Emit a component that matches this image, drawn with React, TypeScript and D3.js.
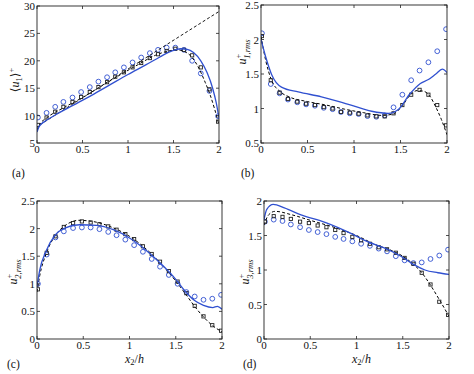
import React from 'react'
import * as d3 from 'd3'

// marker positions (x2/h), shared by all four panels
const markerX = [0.01, 0.105, 0.2, 0.29, 0.39, 0.485, 0.58, 0.675, 0.77, 0.86, 0.955, 1.05, 1.145, 1.24, 1.33, 1.425, 1.52, 1.615, 1.705, 1.8, 1.895, 1.99]
const xTicks = [0, 0.5, 1, 1.5, 2]

// (a) mean velocity
const aSquares = [8.3, 9.65, 10.7, 11.6, 12.5, 13.4, 14.3, 15.2, 16.1, 17.1, 17.9, 18.8, 19.6, 20.5, 21.2, 21.8, 22.2, 22.0, 21.0, 18.8, 14.8, 8.9]
const aCircles = [9.65, 10.5, 11.6, 12.5, 13.3, 14.3, 15.2, 16.2, 17.0, 17.9, 18.8, 19.7, 20.6, 21.4, 22.0, 22.4, 22.4, 22.0, 20.0, 17.7, 14.5, 9.9]
const aBlueX = [0, 0.02, 0.05, 0.1, 0.2, 0.4, 0.6, 0.8, 1.0, 1.2, 1.35, 1.45, 1.52, 1.58, 1.65, 1.72, 1.8, 1.87, 1.93, 1.97, 2.0]
const aBlueY = [7.0, 7.9, 8.5, 9.1, 10.1, 11.9, 13.7, 15.6, 17.5, 19.3, 20.7, 21.6, 22.0, 22.2, 22.1, 21.5, 20.0, 17.8, 15.0, 12.3, 9.5]
const aDashX = [0, 0.03, 0.1, 0.3, 0.5, 0.7, 0.9, 1.1, 1.3, 1.45, 1.55, 1.62, 1.7, 1.78, 1.85, 1.9, 1.95, 2.0]
const aDashY = [7.3, 8.4, 9.5, 11.5, 13.3, 15.3, 17.3, 19.2, 21.0, 21.8, 22.0, 21.7, 20.7, 18.6, 16.0, 13.9, 11.3, 8.3]
const aLogX = [0, 0.03, 2.0]
const aLogY = [7.6, 8.3, 29.0]
const aTicks = [5, 10, 15, 20, 25, 30]

// (b) streamwise rms
const bSquares = [2.05, 1.41, 1.23, 1.14, 1.10, 1.07, 1.05, 1.02, 1.0, 0.95, 0.94, 0.925, 0.9, 0.886, 0.886, 0.93, 1.05, 1.2, 1.27, 1.2, 1.05, 0.756]
const bCircles = [2.09, 1.355, 1.22, 1.13, 1.09, 1.06, 1.04, 1.01, 0.99, 0.95, 0.93, 0.92, 0.89, 0.88, 0.9, 1.017, 1.2, 1.41, 1.55, 1.67, 1.83, 2.15]
const bBlueX = [0, 0.05, 0.115, 0.22, 0.4, 0.65, 0.94, 1.19, 1.37, 1.48, 1.6, 1.71, 1.8, 1.88, 1.95, 2.0]
const bBlueY = [2.0, 1.75, 1.49, 1.31, 1.24, 1.17, 1.06, 0.96, 0.93, 0.99, 1.21, 1.36, 1.42, 1.5, 1.57, 1.52]
const bDashX = [0, 0.05, 0.11, 0.2, 0.3, 0.5, 0.7, 0.9, 1.1, 1.3, 1.42, 1.52, 1.6, 1.68, 1.75, 1.82, 1.88, 1.94, 2.0]
const bDashY = [2.05, 1.7, 1.42, 1.25, 1.17, 1.1, 1.05, 0.99, 0.94, 0.9, 0.92, 1.04, 1.19, 1.26, 1.25, 1.17, 1.02, 0.84, 0.62]
const bTicks = [0.5, 1, 1.5, 2, 2.5]

// (c) wall-normal rms
const cSquares = [0.9, 1.56, 1.86, 2.03, 2.1, 2.13, 2.11, 2.08, 2.04, 1.98, 1.9, 1.81, 1.68, 1.54, 1.4, 1.23, 1.04, 0.83, 0.6, 0.41, 0.25, 0.15]
const cCircles = [1.0, 1.53, 1.84, 1.95, 2.01, 2.02, 2.02, 1.99, 1.94, 1.88, 1.8, 1.7, 1.58, 1.45, 1.31, 1.16, 1.0, 0.85, 0.77, 0.71, 0.73, 0.8]
const cBlueX = [0, 0.03, 0.1, 0.2, 0.3, 0.46, 0.645, 0.825, 1.0, 1.185, 1.36, 1.5, 1.6, 1.7, 1.8, 1.9, 1.95, 2.0]
const cBlueY = [0.95, 1.25, 1.6, 1.89, 2.01, 2.07, 2.06, 1.98, 1.83, 1.6, 1.33, 1.08, 0.87, 0.7, 0.61, 0.57, 0.59, 0.54]
const cDashX = [0, 0.03, 0.1, 0.2, 0.3, 0.45, 0.6, 0.8, 1.0, 1.2, 1.4, 1.5, 1.6, 1.7, 1.8, 1.9, 2.0]
const cDashY = [0.85, 1.15, 1.55, 1.88, 2.05, 2.15, 2.13, 2.03, 1.86, 1.6, 1.25, 1.05, 0.83, 0.6, 0.4, 0.24, 0.13]
const cTicks = [0, 0.5, 1, 1.5, 2, 2.5]

// (d) spanwise rms
const dSquares = [1.7, 1.78, 1.77, 1.74, 1.70, 1.68, 1.645, 1.62, 1.58, 1.535, 1.48, 1.43, 1.38, 1.33, 1.30, 1.25, 1.175, 1.09, 0.96, 0.79, 0.54, 0.35]
const dCircles = [1.70, 1.73, 1.71, 1.66, 1.62, 1.58, 1.55, 1.52, 1.48, 1.45, 1.415, 1.38, 1.35, 1.31, 1.27, 1.2, 1.14, 1.1, 1.11, 1.16, 1.21, 1.295]
const dBlueX = [0, 0.03, 0.1, 0.22, 0.4, 0.66, 0.94, 1.12, 1.3, 1.48, 1.63, 1.74, 1.88, 2.0]
const dBlueY = [1.73, 1.88, 1.95, 1.9, 1.8, 1.69, 1.53, 1.41, 1.32, 1.2, 1.07, 1.0, 0.96, 0.935]
const dDashX = [0, 0.05, 0.12, 0.3, 0.5, 0.8, 1.0, 1.2, 1.4, 1.5, 1.6, 1.7, 1.8, 1.9, 2.0]
const dDashY = [1.65, 1.8, 1.85, 1.8, 1.72, 1.6, 1.5, 1.37, 1.27, 1.2, 1.1, 0.97, 0.78, 0.56, 0.33]
const dTicks = [0, 0.5, 1, 1.5, 2]

const BLUE = '#3050d0'
const FONT = "'Liberation Serif', 'Times New Roman', 'DejaVu Serif', serif"

const zip = (xs: number[], ys: number[]) => xs.map((x, i) => [x, ys[i]] as [number, number])

function Panel(props: any) {
    const { box, yDomain, yTicks, squares, circles, blue, dashes, straight, tag, tagPos, ylabel, ylabelPos, xlabel } = props
    const x = d3.scaleLinear().domain([0, 2]).range([box.l, box.r])
    const y = d3.scaleLinear().domain(yDomain).range([box.b, box.t])
    const line = d3.line<[number, number]>().x(d => x(d[0])).y(d => y(d[1])).curve(d3.curveMonotoneX)
    const straightLine = d3.line<[number, number]>().x(d => x(d[0])).y(d => y(d[1]))
    const clipId = 'clip-' + tag

    return (
        <g style={{ fontFamily: FONT }}>
            <defs>
                <clipPath id={clipId}>
                    <rect x={box.l} y={box.t} width={box.r - box.l} height={box.b - box.t} />
                </clipPath>
            </defs>
            <g clipPath={`url(#${clipId})`}>
                {circles.map((v: number, i: number) => (
                    <circle key={'c' + i} cx={x(markerX[i])} cy={y(v)} r={2.4} fill='none' stroke={BLUE} strokeWidth={0.9} />
                ))}
                {dashes.map((d: [number, number][], i: number) => (
                    <path key={'d' + i} d={line(d) || ''} fill='none' stroke='black' strokeWidth={1} strokeDasharray='3,2.2' />
                ))}
                {straight && (
                    <path d={straightLine(straight) || ''} fill='none' stroke='black' strokeWidth={0.9} strokeDasharray='3,2.2' />
                )}
                {squares.map((v: number, i: number) => (
                    <rect key={'s' + i} x={x(markerX[i]) - 1.6} y={y(v) - 1.6} width={3.2} height={3.2} fill='none' stroke='#222' strokeWidth={0.9} />
                ))}
                <path d={line(blue) || ''} fill='none' stroke={BLUE} strokeWidth={1.3} />
            </g>
            <rect x={box.l} y={box.t} width={box.r - box.l} height={box.b - box.t} fill='none' stroke='#222' strokeWidth={0.9} />
            {xTicks.map(t => (
                <g key={'xt' + t}>
                    <line x1={x(t)} x2={x(t)} y1={box.b} y2={box.b - 3} stroke='#222' strokeWidth={0.8} />
                    <line x1={x(t)} x2={x(t)} y1={box.t} y2={box.t + 3} stroke='#222' strokeWidth={0.8} />
                    <text x={x(t)} y={box.b + 10} fontSize={11} textAnchor='middle' fill='#111'>{t}</text>
                </g>
            ))}
            {yTicks.map((t: number) => (
                <g key={'yt' + t}>
                    <line x1={box.l} x2={box.l + 3} y1={y(t)} y2={y(t)} stroke='#222' strokeWidth={0.8} />
                    <line x1={box.r} x2={box.r - 3} y1={y(t)} y2={y(t)} stroke='#222' strokeWidth={0.8} />
                    <text x={box.l - 2} y={y(t) + 4} fontSize={11} textAnchor='end' fill='#111'>{t}</text>
                </g>
            ))}
            <text x={tagPos[0]} y={tagPos[1]} fontSize={11.5} fill='#111'>({tag})</text>
            {xlabel && (
                <text x={(box.l + box.r) / 2 + 5} y={box.b + 23.5} fontSize={12} textAnchor='middle' fill='#111'>
                    <tspan fontStyle='italic'>x</tspan>
                    <tspan fontSize={8.5} dy={2.5}>2</tspan>
                    <tspan dy={-2.5}>/</tspan>
                    <tspan fontStyle='italic'>h</tspan>
                </text>
            )}
            <g transform={`translate(${ylabelPos[0]},${ylabelPos[1]}) rotate(-90)`}>
                {ylabel}
            </g>
        </g>
    )
}

function RmsLabel(props: { k: string }) {
    return (
        <text x={0} y={4} fontSize={12} textAnchor='middle' fill='#111'>
            <tspan fontStyle='italic'>u</tspan>
            <tspan fontSize={8.5} dy={-5}>+</tspan>
            <tspan fontSize={8.5} dx={-5} dy={8.5} fontStyle='italic'>{props.k},rms</tspan>
        </text>
    )
}

export default function App() {
    const meanLabel = (
        <text x={0} y={4} fontSize={12} textAnchor='middle' fill='#111'>
            <tspan>⟨</tspan>
            <tspan fontStyle='italic'>u</tspan>
            <tspan fontSize={8.5} dy={2.5}>1</tspan>
            <tspan dy={-2.5}>⟩</tspan>
            <tspan fontSize={8.5} dy={-5}>+</tspan>
        </text>
    )
    return (
        <svg width={474} height={374} style={{ position: 'absolute', left: 0, top: 0, background: 'white' }}>
            <rect x={0} y={0} width={474} height={374} fill='white' />
            <Panel box={{ l: 37, r: 219, t: 6, b: 143 }} yDomain={[5, 30]} yTicks={aTicks}
                squares={aSquares} circles={aCircles} blue={zip(aBlueX, aBlueY)}
                dashes={[zip(aDashX, aDashY)]} straight={zip(aLogX, aLogY)}
                tag='a' tagPos={[12, 177]} ylabel={meanLabel} ylabelPos={[15, 80]} />
            <Panel box={{ l: 261, r: 447, t: 5, b: 143 }} yDomain={[0.5, 2.5]} yTicks={bTicks}
                squares={bSquares} circles={bCircles} blue={zip(bBlueX, bBlueY)}
                dashes={[zip(bDashX, bDashY)]}
                tag='b' tagPos={[241, 177]} ylabel={<RmsLabel k='1' />} ylabelPos={[242, 52]} />
            <Panel box={{ l: 37, r: 222, t: 201, b: 339 }} yDomain={[0, 2.5]} yTicks={cTicks}
                squares={cSquares} circles={cCircles} blue={zip(cBlueX, cBlueY)}
                dashes={[zip(cDashX, cDashY)]}
                tag='c' tagPos={[7, 368]} ylabel={<RmsLabel k='2' />} ylabelPos={[13, 272]} xlabel />
            <Panel box={{ l: 264, r: 449, t: 201, b: 339 }} yDomain={[0, 2]} yTicks={dTicks}
                squares={dSquares} circles={dCircles} blue={zip(dBlueX, dBlueY)}
                dashes={[zip(dDashX, dDashY)]}
                tag='d' tagPos={[243, 368]} ylabel={<RmsLabel k='3' />} ylabelPos={[245, 272]} xlabel />
        </svg>
    )
}
